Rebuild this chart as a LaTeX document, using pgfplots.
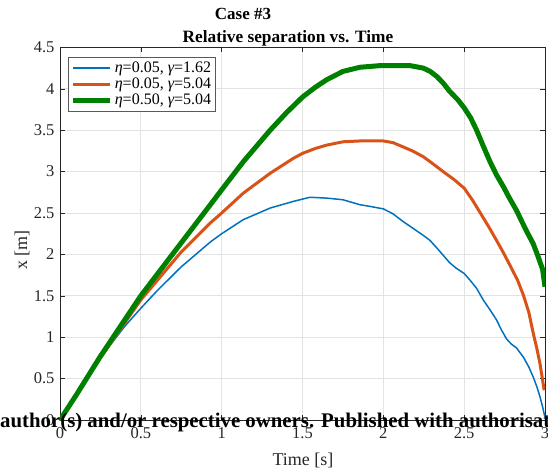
\documentclass[border=0pt]{standalone}
\usepackage{fontspec}
\setmainfont{Liberation Serif}
\usepackage{pgfplots}
\pgfplotsset{compat=1.18}
\usetikzlibrary{calc}
\definecolor{mblue}{rgb}{0,0.447,0.741}
\definecolor{morange}{rgb}{0.85,0.325,0.098}
\definecolor{mgreen}{rgb}{0,0.5,0}
\definecolor{axgray}{rgb}{0.15,0.15,0.15}
\begin{document}
\begin{tikzpicture}
\begin{axis}[
  at={(0,0)}, anchor=south west,
  scale only axis, width=485pt, height=372.6pt,
  xmin=0, xmax=3, ymin=0, ymax=4.5,
  xtick={0,0.5,...,3}, ytick={0,0.5,...,4.5},
  xticklabels={0,0.5,1,1.5,2,2.5,3},
  yticklabels={0,0.5,1,1.5,2,2.5,3,3.5,4,4.5},
  tick align=inside, major tick length=5pt,
  tick style={axgray, line width=0.6pt},
  axis line style={axgray, line width=0.8pt},
  grid=major, grid style={gray!22, line width=0.8pt},
  ticklabel style={font=\fontsize{16.5}{18}\selectfont, text=axgray},
  /pgf/number format/assume math mode=true,
  xticklabel style={yshift=-4pt},
  yticklabel style={xshift=-2pt},
  legend style={at={(0.0165,0.974)}, anchor=north west, draw=gray!70!black, line width=0.6pt,
    fill=white, font=\fontsize{16}{18.5}\selectfont, row sep=0pt, inner sep=2.5pt,
    cells={anchor=west}},
  legend cell align=left,
  legend image code/.code={\draw[#1] (0pt,0pt) -- (37pt,0pt);},
  clip=true,
]
\addplot[mblue, line width=1.5pt, line join=round] coordinates {
(0,0) (0.1,0.30) (0.2,0.60) (0.25,0.74) (0.3,0.88) (0.4,1.13) (0.5,1.35) (0.6,1.56) (0.75,1.85) (0.93,2.15) (1.0,2.25) (1.134,2.42) (1.3,2.56) (1.443,2.64) (1.546,2.69) (1.65,2.68) (1.75,2.66) (1.855,2.60) (1.917,2.58) (2.0,2.55) (2.06,2.49) (2.12,2.40) (2.18,2.32) (2.247,2.23) (2.288,2.17) (2.33,2.08) (2.37,1.99) (2.41,1.90) (2.453,1.83) (2.5,1.77) (2.54,1.68) (2.577,1.59) (2.618,1.45) (2.66,1.33) (2.70,1.21) (2.73,1.09) (2.762,0.98) (2.79,0.92) (2.824,0.87) (2.866,0.76) (2.9,0.64) (2.927,0.52) (2.95,0.40) (2.969,0.28) (2.985,0.16) (3.0,0.03)
};
\addlegendentry{{\itshape η}=0.05, {\itshape γ}=1.62}
\addplot[morange, line width=3pt, line join=round] coordinates {
(0,0) (0.1,0.30) (0.25,0.75) (0.5,1.45) (0.75,2.03) (0.93,2.38) (1.0,2.50) (1.134,2.74) (1.3,2.98) (1.443,3.16) (1.5,3.22) (1.58,3.28) (1.65,3.32) (1.75,3.36) (1.855,3.37) (1.98,3.37) (2.0,3.37) (2.06,3.35) (2.12,3.30) (2.18,3.25) (2.247,3.18) (2.31,3.09) (2.37,3.00) (2.44,2.90) (2.5,2.80) (2.55,2.66) (2.597,2.51) (2.65,2.34) (2.70,2.17) (2.74,2.03) (2.783,1.87) (2.83,1.69) (2.866,1.51) (2.9,1.30) (2.927,1.05) (2.95,0.86) (2.969,0.68) (2.982,0.52) (2.995,0.36)
};
\addlegendentry{{\itshape η}=0.05, {\itshape γ}=5.04}
\addplot[mgreen, line width=5pt, line join=round] coordinates {
(0,0) (0.1,0.30) (0.25,0.77) (0.5,1.50) (0.75,2.14) (0.93,2.60) (1.0,2.78) (1.134,3.12) (1.3,3.50) (1.4,3.71) (1.5,3.90) (1.58,4.02) (1.65,4.11) (1.75,4.21) (1.855,4.26) (1.98,4.28) (2.07,4.28) (2.165,4.28) (2.247,4.25) (2.29,4.21) (2.33,4.15) (2.37,4.07) (2.41,3.97) (2.46,3.87) (2.5,3.77) (2.54,3.65) (2.577,3.50) (2.62,3.30) (2.66,3.12) (2.70,2.96) (2.742,2.82) (2.78,2.68) (2.824,2.53) (2.856,2.40) (2.886,2.28) (2.927,2.13) (2.958,1.97) (2.985,1.82) (3.0,1.61)
};
\addlegendentry{{\itshape η}=0.50, {\itshape γ}=5.04}
\coordinate (bl) at (rel axis cs:0,0);
\end{axis}
\node[anchor=base, font=\fontsize{17}{19}\selectfont\bfseries, text=black] at ($(bl)+(183pt,400pt)$) {Case \#3};
\node[anchor=base, font=\fontsize{17.3}{19}\selectfont\bfseries, text=black] at ($(bl)+(228pt,377.5pt)$) {Relative separation vs. Time};
\node[rotate=90, font=\fontsize{18}{20}\selectfont, text=axgray] at ($(bl)+(-38pt,170pt)$) {x [m]};
\node[anchor=base, font=\fontsize{18}{20}\selectfont, text=axgray] at ($(bl)+(243pt,-45pt)$) {Time [s]};
\node[anchor=base west, inner sep=0pt, text=black] at ($(bl)+(-60pt,-7pt)$) {\resizebox{550pt}{!}{\bfseries author(s) and/or respective owners. Published with authorisat}};
\pgfresetboundingbox
\path[use as bounding box] ($(bl)+(-60pt,-52pt)$) rectangle ($(bl)+(488pt,420pt)$);
\end{tikzpicture}
\end{document}
